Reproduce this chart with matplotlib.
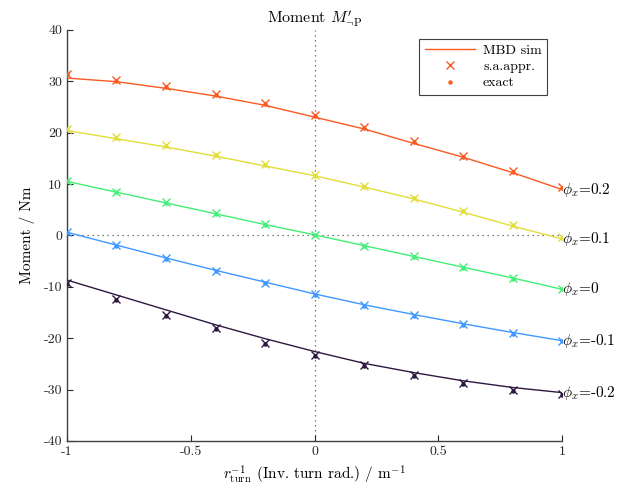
import numpy as np
import matplotlib
matplotlib.use('Agg')
import matplotlib.pyplot as plt
from matplotlib.lines import Line2D

plt.rcParams['font.family'] = ['cmr10', 'DejaVu Serif']
plt.rcParams['mathtext.fontset'] = 'cm'
plt.rcParams['axes.unicode_minus'] = False

# inverse turn radius grid (1/m)
r_inv = [-1.0, -0.8, -0.6, -0.4, -0.2, 0.0, 0.2, 0.4, 0.6, 0.8, 1.0]
phi_labels = ['0.2', '0.1', '0', '-0.1', '-0.2']
colors = ['#fa5a22', '#e2dd3a', '#43ef78', '#3f98ff', '#2e1840']

# MBD simulation (line)
sim_p02 = [30.6, 29.9, 28.6, 27.1, 25.3, 23.0, 20.7, 17.9, 15.2, 12.2, 8.9]
sim_p01 = [20.4, 18.8, 17.2, 15.4, 13.5, 11.6, 9.4, 7.1, 4.5, 1.8, -0.7]
sim_0 = [10.5, 8.4, 6.3, 4.2, 2.1, 0.1, -2.0, -4.1, -6.2, -8.3, -10.5]
sim_m01 = [0.6, -1.9, -4.4, -6.8, -9.1, -11.4, -13.5, -15.4, -17.2, -18.9, -20.5]
sim_m02 = [-8.7, -11.6, -14.5, -17.4, -20.1, -22.6, -24.9, -26.7, -28.3, -29.6, -30.6]

# small-angle approximation (x markers)
saa_p02 = [31.4, 30.3, 29.0, 27.5, 25.7, 23.5, 21.0, 18.4, 15.5, 12.6, 9.4]
saa_p01 = [20.7, 19.1, 17.5, 15.7, 13.9, 11.7, 9.6, 7.3, 4.8, 2.1, -0.3]
saa_0 = [10.6, 8.5, 6.4, 4.3, 2.2, 0.1, -2.0, -4.1, -6.2, -8.3, -10.4]
saa_m01 = [0.6, -1.9, -4.5, -6.9, -9.2, -11.5, -13.6, -15.5, -17.3, -19.0, -20.5]
saa_m02 = [-9.2, -12.3, -15.4, -18.1, -20.9, -23.3, -25.3, -27.2, -28.8, -30.1, -30.9]

# exact solution (dots)
ex_p02 = [31.3, 30.1, 28.8, 27.3, 25.5, 23.3, 20.8, 18.2, 15.3, 12.4, 9.2]
ex_p01 = [20.6, 19.0, 17.4, 15.6, 13.7, 11.6, 9.5, 7.2, 4.7, 2.0, -0.5]
ex_0 = [10.5, 8.4, 6.3, 4.2, 2.1, 0.0, -2.1, -4.2, -6.3, -8.4, -10.5]
ex_m01 = [0.5, -2.0, -4.6, -7.0, -9.3, -11.6, -13.7, -15.6, -17.4, -19.1, -20.6]
ex_m02 = [-9.4, -12.5, -15.6, -18.3, -21.1, -23.5, -25.5, -27.4, -29.0, -30.3, -31.1]

sims = [sim_p02, sim_p01, sim_0, sim_m01, sim_m02]
saas = [saa_p02, saa_p01, saa_0, saa_m01, saa_m02]
exacts = [ex_p02, ex_p01, ex_0, ex_m01, ex_m02]

xticks = [-1, -0.5, 0, 0.5, 1]
xticklabels = ['-1', '-0.5', '0', '0.5', '1']
yticks = [-40, -30, -20, -10, 0, 10, 20, 30, 40]
yticklabels = ['-40', '-30', '-20', '-10', '0', '10', '20', '30', '40']

fig = plt.figure(figsize=(6.44, 4.96), dpi=100)
ax = fig.add_axes([0.104, 0.111, 0.769, 0.829])

ax.axhline(0, color='#555555', lw=0.9, ls=(0, (1, 3)), zorder=1)
ax.axvline(0, color='#555555', lw=0.9, ls=(0, (1, 3)), zorder=1)

for sim, saa, ex, c, lab in zip(sims, saas, exacts, colors, phi_labels):
    ax.plot(r_inv, sim, color=c, lw=1.0, zorder=3)
    ax.plot(r_inv, saa, ls='none', marker='x', ms=5.2, mew=1.0, color=c, zorder=4)
    ax.plot(r_inv, ex, ls='none', marker='o', ms=2.2, color=c, zorder=5)
    ax.text(r_inv[-1], sim[-1], r'$\phi_x$=' + lab, fontsize=11,
            ha='left', va='center', color='black', clip_on=False)

ax.set_xlim(-1, 1)
ax.set_ylim(-40, 40)
ax.set_xticks(xticks)
ax.set_xticklabels(xticklabels)
ax.set_yticks(yticks)
ax.set_yticklabels(yticklabels)
ax.tick_params(direction='in', length=4, width=0.8, colors='#262626',
               labelsize=10, labelcolor='#262626')
for s in ['top', 'right']:
    ax.spines[s].set_visible(False)
for s in ['left', 'bottom']:
    ax.spines[s].set_color('#404040')
    ax.spines[s].set_linewidth(1.0)

ax.set_title(r"Moment $M^{\prime}_{\neg\mathrm{P}}$", fontsize=11.5, pad=5)
ax.set_xlabel(r'$r_{\mathrm{turn}}^{-1}$ (Inv. turn rad.) / m$^{-1}$', fontsize=11, labelpad=4)
ax.set_ylabel('Moment / Nm', fontsize=11, labelpad=6)

handles = [Line2D([], [], color=colors[0], lw=1.0),
           Line2D([], [], ls='none', marker='x', ms=5.2, mew=1.0, color=colors[0]),
           Line2D([], [], ls='none', marker='o', ms=2.2, color=colors[0])]
leg = ax.legend(handles, ['MBD sim', 's.a.appr.', 'exact'], loc='upper right',
                bbox_to_anchor=(0.97, 0.978), borderaxespad=0, fancybox=False,
                framealpha=1, edgecolor='#404040', fontsize=10, handlelength=3.6,
                labelspacing=0.25, borderpad=0.4, handletextpad=0.6)
leg.get_frame().set_linewidth(0.8)

fig.savefig('out.png', dpi=100)
